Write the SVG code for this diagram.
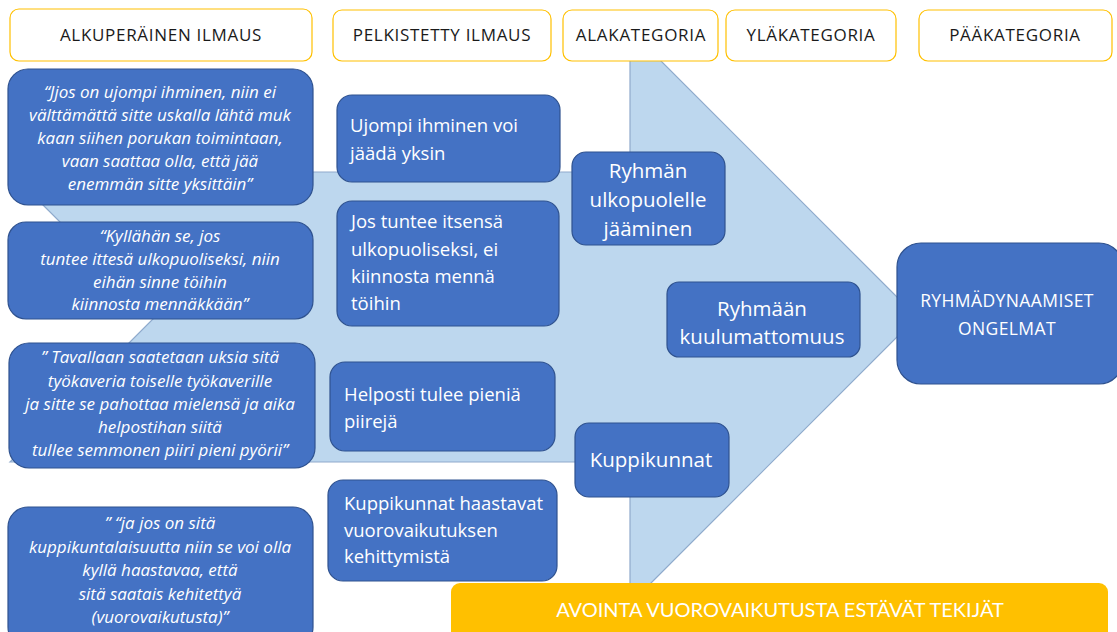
<svg xmlns="http://www.w3.org/2000/svg" width="1117" height="632" viewBox="0 0 1117 632">
  <style>
    .hdr { fill: #ffffff; stroke: #ffc000; stroke-width: 1.2; }
    .hdr-t { font-family: "Open Sans", "Noto Sans", sans-serif; font-size: 17px; letter-spacing: 0.7px; fill: #1a1a1a; text-anchor: middle; }
    .box { fill: #4472c4; stroke: #2f528f; stroke-width: 1.2; }
    .quote { font-family: "Open Sans", "Noto Sans", sans-serif; font-style: italic; font-size: 17px; fill: #ffffff; text-anchor: middle; }
    .simple { font-family: "Open Sans", "Noto Sans", sans-serif; font-size: 18.5px; fill: #ffffff; }
    .cat { font-family: "Open Sans", "Noto Sans", sans-serif; font-size: 20.5px; fill: #ffffff; text-anchor: middle; }
    .main { font-family: "Open Sans", "Noto Sans", sans-serif; font-size: 17.5px; letter-spacing: 0.4px; fill: #ffffff; text-anchor: middle; }
    .bar-t { font-family: Lato, "Open Sans", sans-serif; font-size: 20px; fill: #ffffff; text-anchor: middle; }
  </style>

  <rect width="1117" height="632" fill="#ffffff"/>

  <!-- wide notched block arrow behind the categories -->
  <g id="connectors">
    <polygon points="10,172 630,172 630,30 917,317 630,604 630,462 10,462 155,317"
             fill="#bdd7ee" stroke="#8faacc" stroke-width="1.2"/>
  </g>

  <!-- column headers -->
  <g id="hdr-alkuperainen">
    <rect class="hdr" x="10" y="9" width="302" height="52" rx="9"/>
    <text class="hdr-t" x="161" y="41">ALKUPERÄINEN ILMAUS</text>
  </g>
  <g id="hdr-pelkistetty">
    <rect class="hdr" x="333" y="10" width="218" height="51" rx="9"/>
    <text class="hdr-t" x="442" y="41">PELKISTETTY  ILMAUS</text>
  </g>
  <g id="hdr-alakategoria">
    <rect class="hdr" x="563" y="10" width="155" height="51" rx="9"/>
    <text class="hdr-t" x="641" y="41">ALAKATEGORIA</text>
  </g>
  <g id="hdr-ylakategoria">
    <rect class="hdr" x="726" y="10" width="170" height="51" rx="9"/>
    <text class="hdr-t" x="811" y="41">YLÄKATEGORIA</text>
  </g>
  <g id="hdr-paakategoria">
    <rect class="hdr" x="919" y="10" width="193" height="51" rx="9"/>
    <text class="hdr-t" x="1015" y="41">PÄÄKATEGORIA</text>
  </g>

  <!-- original quotes -->
  <g id="quote-1">
    <rect class="box" x="8" y="69" width="305" height="136" rx="20"/>
    <text class="quote" x="160" y="98">“Jjos  on ujompi ihminen, niin ei</text>
    <text class="quote" x="160" y="121">välttämättä sitte uskalla lähtä muk</text>
    <text class="quote" x="160" y="144">kaan siihen porukan toimintaan,</text>
    <text class="quote" x="160" y="167">vaan saattaa olla, että jää</text>
    <text class="quote" x="160" y="190">enemmän sitte yksittäin”</text>
  </g>
  <g id="quote-2">
    <rect class="box" x="8" y="222" width="305" height="97" rx="18"/>
    <text class="quote" x="160" y="242">“Kyllähän  se, jos</text>
    <text class="quote" x="160" y="265">tuntee ittesä ulkopuoliseksi,  niin</text>
    <text class="quote" x="160" y="288">eihän sinne töihin</text>
    <text class="quote" x="160" y="310">kiinnosta mennäkkään”</text>
  </g>
  <g id="quote-3">
    <rect class="box" x="9" y="343" width="306" height="125" rx="20"/>
    <text class="quote" x="160" y="363">” Tavallaan saatetaan  uksia sitä</text>
    <text class="quote" x="160" y="387">työkaveria  toiselle  työkaverille</text>
    <text class="quote" x="160" y="410">ja sitte se pahottaa mielensä  ja aika</text>
    <text class="quote" x="160" y="433">helpostihan siitä</text>
    <text class="quote" x="160" y="456">tullee semmonen piiri  pieni pyörii”</text>
  </g>
  <g id="quote-4">
    <rect class="box" x="8" y="507" width="305" height="140" rx="20"/>
    <text class="quote" x="160" y="529">” “ja jos on sitä</text>
    <text class="quote" x="160" y="553">kuppikuntalaisuutta niin se voi olla</text>
    <text class="quote" x="160" y="576">kyllä haastavaa, että</text>
    <text class="quote" x="160" y="600">sitä saatais kehitettyä</text>
    <text class="quote" x="160" y="623">(vuorovaikutusta)”</text>
  </g>

  <!-- simplified expressions -->
  <g id="simple-1">
    <rect class="box" x="337" y="95" width="223" height="87" rx="15"/>
    <text class="simple" x="350" y="132">Ujompi ihminen voi</text>
    <text class="simple" x="350" y="160">jäädä yksin</text>
  </g>
  <g id="simple-2">
    <rect class="box" x="337" y="201" width="222" height="125" rx="15"/>
    <text class="simple" x="351" y="228">Jos tuntee itsensä</text>
    <text class="simple" x="351" y="256">ulkopuoliseksi, ei</text>
    <text class="simple" x="351" y="283">kiinnosta mennä</text>
    <text class="simple" x="351" y="310">töihin</text>
  </g>
  <g id="simple-3">
    <rect class="box" x="330" y="362" width="225" height="89" rx="15"/>
    <text class="simple" x="344" y="401">Helposti tulee pieniä</text>
    <text class="simple" x="344" y="428">piirejä</text>
  </g>
  <g id="simple-4">
    <rect class="box" x="328" y="480" width="229" height="101" rx="15"/>
    <text class="simple" x="344" y="510">Kuppikunnat haastavat</text>
    <text class="simple" x="344" y="537">vuorovaikutuksen</text>
    <text class="simple" x="344" y="563">kehittymistä</text>
  </g>

  <!-- subcategories -->
  <g id="sub-ulkopuolelle">
    <rect class="box" x="572" y="152" width="153" height="93" rx="14"/>
    <text class="cat" x="648" y="178">Ryhmän</text>
    <text class="cat" x="648" y="207">ulkopuolelle</text>
    <text class="cat" x="648" y="236">jääminen</text>
  </g>
  <g id="sub-kuppikunnat">
    <rect class="box" x="575" y="423" width="154" height="74" rx="14"/>
    <text class="cat" x="651" y="467">Kuppikunnat</text>
  </g>

  <!-- upper category -->
  <g id="upper-kuulumattomuus">
    <rect class="box" x="667" y="282" width="193" height="75" rx="12"/>
    <text class="cat" x="762" y="316">Ryhmään</text>
    <text class="cat" x="762" y="344">kuulumattomuus</text>
  </g>

  <!-- main category -->
  <g id="main-ryhmadynaamiset">
    <rect class="box" x="897" y="243" width="226" height="141" rx="24"/>
    <text class="main" x="1007" y="307">RYHMÄDYNAAMISET</text>
    <text class="main" x="1007" y="335">ONGELMAT</text>
  </g>

  <!-- bottom theme bar -->
  <g id="theme-bar">
    <rect x="451" y="583" width="657" height="70" rx="9" fill="#ffc000"/>
    <text class="bar-t" x="780" y="617">AVOINTA VUOROVAIKUTUSTA ESTÄVÄT TEKIJÄT</text>
  </g>
</svg>
